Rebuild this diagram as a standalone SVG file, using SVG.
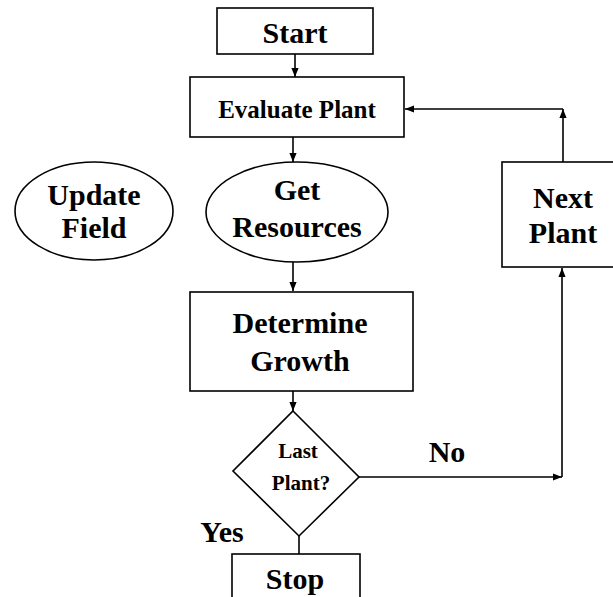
<svg xmlns="http://www.w3.org/2000/svg" width="613" height="597" viewBox="0 0 613 597">
<defs>
<style>
.n{fill:#fff;stroke:#000;stroke-width:1.6}
.c{fill:none;stroke:#000;stroke-width:1.6}
text{font-family:"Liberation Serif","Times New Roman",serif;font-weight:bold;fill:#000;text-anchor:middle}
.l{font-size:30px}
.m{font-size:25px}
.s{font-size:21px}
</style>
<marker id="a" viewBox="0 0 10 10" refX="10" refY="5" markerWidth="9" markerHeight="9" markerUnits="userSpaceOnUse" orient="auto">
<path d="M0,1 L10,5 L0,9 Z" fill="#000"/>
</marker>
</defs>
<rect width="613" height="597" fill="#fff"/>
<g id="connectors">
<path class="c" d="M295,54 V77" marker-end="url(#a)"/>
<path class="c" d="M293,137 V162" marker-end="url(#a)"/>
<path class="c" d="M293,262 V291" marker-end="url(#a)"/>
<path class="c" d="M293,391 V411" marker-end="url(#a)"/>
<path class="c" d="M359,477 H562" marker-end="url(#a)"/>
<path class="c" d="M562,477 V268" marker-end="url(#a)"/>
<path class="c" d="M563,162 V109" marker-end="url(#a)"/>
<path class="c" d="M563,109 H405" marker-end="url(#a)"/>
<path class="c" d="M299,536 V554"/>
<text class="l" x="447" y="462">No</text>
<text class="l" x="222" y="542">Yes</text>
</g>
<g id="start">
<rect class="n" x="217" y="8" width="156" height="46"/>
<text class="l" x="295" y="43">Start</text>
</g>
<g id="evaluate">
<rect class="n" x="190" y="77" width="214" height="60"/>
<text class="m" x="297" y="118">Evaluate Plant</text>
</g>
<g id="update">
<ellipse class="n" cx="94" cy="211" rx="79" ry="49"/>
<text class="l" x="94" y="205">Update</text>
<text class="l" x="94" y="238">Field</text>
</g>
<g id="resources">
<ellipse class="n" cx="297" cy="212" rx="91" ry="50"/>
<text class="l" x="297" y="200">Get</text>
<text class="l" x="297" y="237">Resources</text>
</g>
<g id="growth">
<rect class="n" x="190" y="292" width="223" height="99"/>
<text class="l" x="300" y="333">Determine</text>
<text class="l" x="300" y="371">Growth</text>
</g>
<g id="last">
<polygon class="n" points="293,411 359,477 299,536 233,471"/>
<text class="s" x="298" y="458">Last</text>
<text class="s" x="301" y="490">Plant?</text>
</g>
<g id="next">
<rect class="n" x="502" y="162" width="120" height="105"/>
<text class="l" x="563" y="208">Next</text>
<text class="l" x="563" y="243">Plant</text>
</g>
<g id="stop">
<rect class="n" x="232" y="554" width="128" height="60"/>
<text class="l" x="295" y="589">Stop</text>
</g>
</svg>
